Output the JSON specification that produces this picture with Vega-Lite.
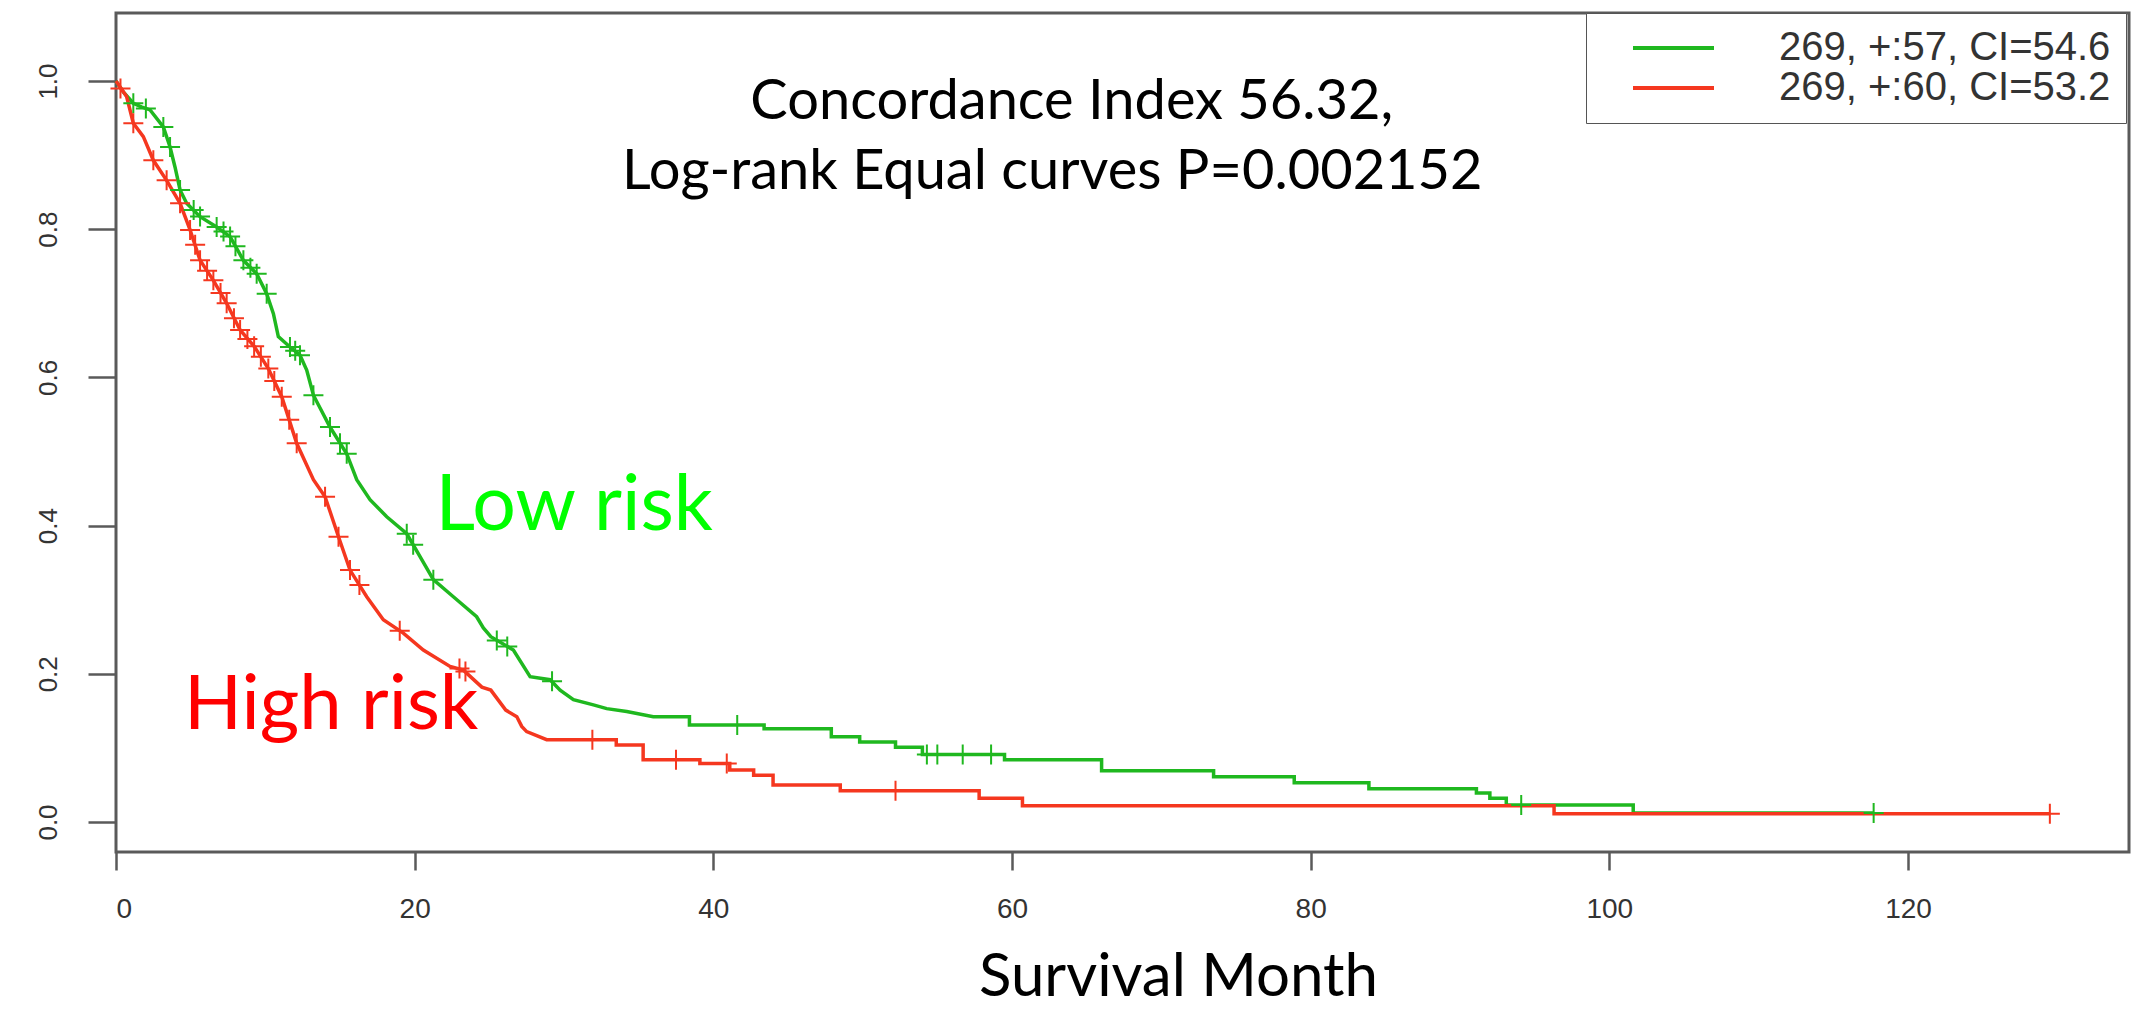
{
  "$schema": "https://vega.github.io/schema/vega-lite/v6.json",
  "width": 2013,
  "height": 839,
  "autosize": {"type": "none"},
  "padding": {"left": 116, "top": 13, "right": 7, "bottom": 158},
  "background": "white",
  "config": {
    "view": {"stroke": "#5a5a5a", "strokeWidth": 3},
    "axis": {"grid": false, "domain": false, "tickColor": "#5a5a5a", "tickWidth": 2.5, "labelFont": "Liberation Sans", "labelColor": "#333333", "labelFontWeight": "normal"},
    "legend": {"strokeColor": "#555555", "fillColor": "white"}
  },
  "datasets": {
    "curve": [
      {"g": "269, +:57, CI=54.6", "t": 0, "s": 1.0, "i": 0},
      {"g": "269, +:57, CI=54.6", "t": 0.5, "s": 0.985, "i": 1},
      {"g": "269, +:57, CI=54.6", "t": 1.16, "s": 0.970, "i": 2},
      {"g": "269, +:57, CI=54.6", "t": 1.7, "s": 0.965, "i": 3},
      {"g": "269, +:57, CI=54.6", "t": 2.28, "s": 0.961, "i": 4},
      {"g": "269, +:57, CI=54.6", "t": 3.17, "s": 0.938, "i": 5},
      {"g": "269, +:57, CI=54.6", "t": 3.62, "s": 0.911, "i": 6},
      {"g": "269, +:57, CI=54.6", "t": 3.95, "s": 0.884, "i": 7},
      {"g": "269, +:57, CI=54.6", "t": 4.29, "s": 0.853, "i": 8},
      {"g": "269, +:57, CI=54.6", "t": 4.73, "s": 0.835, "i": 9},
      {"g": "269, +:57, CI=54.6", "t": 5.63, "s": 0.817, "i": 10},
      {"g": "269, +:57, CI=54.6", "t": 6.74, "s": 0.803, "i": 11},
      {"g": "269, +:57, CI=54.6", "t": 7.64, "s": 0.790, "i": 12},
      {"g": "269, +:57, CI=54.6", "t": 8.53, "s": 0.758, "i": 13},
      {"g": "269, +:57, CI=54.6", "t": 9.42, "s": 0.740, "i": 14},
      {"g": "269, +:57, CI=54.6", "t": 10.09, "s": 0.713, "i": 15},
      {"g": "269, +:57, CI=54.6", "t": 10.54, "s": 0.686, "i": 16},
      {"g": "269, +:57, CI=54.6", "t": 10.87, "s": 0.655, "i": 17},
      {"g": "269, +:57, CI=54.6", "t": 11.65, "s": 0.641, "i": 18},
      {"g": "269, +:57, CI=54.6", "t": 12.32, "s": 0.630, "i": 19},
      {"g": "269, +:57, CI=54.6", "t": 12.77, "s": 0.610, "i": 20},
      {"g": "269, +:57, CI=54.6", "t": 13.22, "s": 0.576, "i": 21},
      {"g": "269, +:57, CI=54.6", "t": 14.33, "s": 0.533, "i": 22},
      {"g": "269, +:57, CI=54.6", "t": 15.45, "s": 0.497, "i": 23},
      {"g": "269, +:57, CI=54.6", "t": 16.12, "s": 0.462, "i": 24},
      {"g": "269, +:57, CI=54.6", "t": 17.01, "s": 0.435, "i": 25},
      {"g": "269, +:57, CI=54.6", "t": 18.13, "s": 0.412, "i": 26},
      {"g": "269, +:57, CI=54.6", "t": 19.47, "s": 0.389, "i": 27},
      {"g": "269, +:57, CI=54.6", "t": 20.36, "s": 0.358, "i": 28},
      {"g": "269, +:57, CI=54.6", "t": 21.25, "s": 0.327, "i": 29},
      {"g": "269, +:57, CI=54.6", "t": 22.59, "s": 0.304, "i": 30},
      {"g": "269, +:57, CI=54.6", "t": 24.15, "s": 0.277, "i": 31},
      {"g": "269, +:57, CI=54.6", "t": 24.6, "s": 0.262, "i": 32},
      {"g": "269, +:57, CI=54.6", "t": 25.1, "s": 0.250, "i": 33},
      {"g": "269, +:57, CI=54.6", "t": 26.61, "s": 0.232, "i": 34},
      {"g": "269, +:57, CI=54.6", "t": 27.73, "s": 0.196, "i": 35},
      {"g": "269, +:57, CI=54.6", "t": 29.07, "s": 0.192, "i": 36},
      {"g": "269, +:57, CI=54.6", "t": 29.74, "s": 0.178, "i": 37},
      {"g": "269, +:57, CI=54.6", "t": 30.63, "s": 0.165, "i": 38},
      {"g": "269, +:57, CI=54.6", "t": 31.97, "s": 0.158, "i": 39},
      {"g": "269, +:57, CI=54.6", "t": 32.86, "s": 0.153, "i": 40},
      {"g": "269, +:57, CI=54.6", "t": 34.2, "s": 0.149, "i": 41},
      {"g": "269, +:57, CI=54.6", "t": 35.98, "s": 0.142, "i": 42},
      {"g": "269, +:57, CI=54.6", "t": 38.4, "s": 0.142, "i": 43},
      {"g": "269, +:57, CI=54.6", "t": 38.4, "s": 0.131, "i": 44},
      {"g": "269, +:57, CI=54.6", "t": 43.4, "s": 0.131, "i": 45},
      {"g": "269, +:57, CI=54.6", "t": 43.4, "s": 0.126, "i": 46},
      {"g": "269, +:57, CI=54.6", "t": 47.9, "s": 0.126, "i": 47},
      {"g": "269, +:57, CI=54.6", "t": 47.9, "s": 0.115, "i": 48},
      {"g": "269, +:57, CI=54.6", "t": 49.8, "s": 0.115, "i": 49},
      {"g": "269, +:57, CI=54.6", "t": 49.8, "s": 0.108, "i": 50},
      {"g": "269, +:57, CI=54.6", "t": 52.2, "s": 0.108, "i": 51},
      {"g": "269, +:57, CI=54.6", "t": 52.2, "s": 0.101, "i": 52},
      {"g": "269, +:57, CI=54.6", "t": 54.0, "s": 0.101, "i": 53},
      {"g": "269, +:57, CI=54.6", "t": 54.0, "s": 0.091, "i": 54},
      {"g": "269, +:57, CI=54.6", "t": 59.5, "s": 0.091, "i": 55},
      {"g": "269, +:57, CI=54.6", "t": 59.5, "s": 0.084, "i": 56},
      {"g": "269, +:57, CI=54.6", "t": 66.0, "s": 0.084, "i": 57},
      {"g": "269, +:57, CI=54.6", "t": 66.0, "s": 0.069, "i": 58},
      {"g": "269, +:57, CI=54.6", "t": 73.5, "s": 0.069, "i": 59},
      {"g": "269, +:57, CI=54.6", "t": 73.5, "s": 0.061, "i": 60},
      {"g": "269, +:57, CI=54.6", "t": 78.9, "s": 0.061, "i": 61},
      {"g": "269, +:57, CI=54.6", "t": 78.9, "s": 0.053, "i": 62},
      {"g": "269, +:57, CI=54.6", "t": 83.9, "s": 0.053, "i": 63},
      {"g": "269, +:57, CI=54.6", "t": 83.9, "s": 0.045, "i": 64},
      {"g": "269, +:57, CI=54.6", "t": 91.1, "s": 0.045, "i": 65},
      {"g": "269, +:57, CI=54.6", "t": 91.1, "s": 0.039, "i": 66},
      {"g": "269, +:57, CI=54.6", "t": 92.0, "s": 0.039, "i": 67},
      {"g": "269, +:57, CI=54.6", "t": 92.0, "s": 0.032, "i": 68},
      {"g": "269, +:57, CI=54.6", "t": 93.1, "s": 0.032, "i": 69},
      {"g": "269, +:57, CI=54.6", "t": 93.1, "s": 0.023, "i": 70},
      {"g": "269, +:57, CI=54.6", "t": 101.6, "s": 0.023, "i": 71},
      {"g": "269, +:57, CI=54.6", "t": 101.6, "s": 0.012, "i": 72},
      {"g": "269, +:57, CI=54.6", "t": 117.7, "s": 0.012, "i": 73},
      {"g": "269, +:60, CI=53.2", "t": 0, "s": 1.0, "i": 0},
      {"g": "269, +:60, CI=53.2", "t": 0.71, "s": 0.979, "i": 1},
      {"g": "269, +:60, CI=53.2", "t": 1.16, "s": 0.943, "i": 2},
      {"g": "269, +:60, CI=53.2", "t": 1.83, "s": 0.925, "i": 3},
      {"g": "269, +:60, CI=53.2", "t": 2.5, "s": 0.893, "i": 4},
      {"g": "269, +:60, CI=53.2", "t": 3.39, "s": 0.866, "i": 5},
      {"g": "269, +:60, CI=53.2", "t": 4.29, "s": 0.835, "i": 6},
      {"g": "269, +:60, CI=53.2", "t": 4.96, "s": 0.799, "i": 7},
      {"g": "269, +:60, CI=53.2", "t": 5.63, "s": 0.758, "i": 8},
      {"g": "269, +:60, CI=53.2", "t": 6.52, "s": 0.731, "i": 9},
      {"g": "269, +:60, CI=53.2", "t": 7.41, "s": 0.700, "i": 10},
      {"g": "269, +:60, CI=53.2", "t": 8.31, "s": 0.664, "i": 11},
      {"g": "269, +:60, CI=53.2", "t": 9.25, "s": 0.642, "i": 12},
      {"g": "269, +:60, CI=53.2", "t": 10.2, "s": 0.612, "i": 13},
      {"g": "269, +:60, CI=53.2", "t": 11.1, "s": 0.574, "i": 14},
      {"g": "269, +:60, CI=53.2", "t": 12.1, "s": 0.511, "i": 15},
      {"g": "269, +:60, CI=53.2", "t": 13.22, "s": 0.462, "i": 16},
      {"g": "269, +:60, CI=53.2", "t": 14.0, "s": 0.439, "i": 17},
      {"g": "269, +:60, CI=53.2", "t": 14.9, "s": 0.385, "i": 18},
      {"g": "269, +:60, CI=53.2", "t": 15.67, "s": 0.340, "i": 19},
      {"g": "269, +:60, CI=53.2", "t": 16.79, "s": 0.304, "i": 20},
      {"g": "269, +:60, CI=53.2", "t": 17.9, "s": 0.273, "i": 21},
      {"g": "269, +:60, CI=53.2", "t": 19.24, "s": 0.255, "i": 22},
      {"g": "269, +:60, CI=53.2", "t": 20.58, "s": 0.232, "i": 23},
      {"g": "269, +:60, CI=53.2", "t": 22.37, "s": 0.210, "i": 24},
      {"g": "269, +:60, CI=53.2", "t": 23.26, "s": 0.205, "i": 25},
      {"g": "269, +:60, CI=53.2", "t": 24.5, "s": 0.182, "i": 26},
      {"g": "269, +:60, CI=53.2", "t": 25.1, "s": 0.178, "i": 27},
      {"g": "269, +:60, CI=53.2", "t": 26.1, "s": 0.151, "i": 28},
      {"g": "269, +:60, CI=53.2", "t": 26.84, "s": 0.142, "i": 29},
      {"g": "269, +:60, CI=53.2", "t": 27.17, "s": 0.129, "i": 30},
      {"g": "269, +:60, CI=53.2", "t": 27.5, "s": 0.122, "i": 31},
      {"g": "269, +:60, CI=53.2", "t": 28.84, "s": 0.111, "i": 32},
      {"g": "269, +:60, CI=53.2", "t": 33.5, "s": 0.111, "i": 33},
      {"g": "269, +:60, CI=53.2", "t": 33.5, "s": 0.104, "i": 34},
      {"g": "269, +:60, CI=53.2", "t": 35.3, "s": 0.104, "i": 35},
      {"g": "269, +:60, CI=53.2", "t": 35.3, "s": 0.084, "i": 36},
      {"g": "269, +:60, CI=53.2", "t": 39.1, "s": 0.084, "i": 37},
      {"g": "269, +:60, CI=53.2", "t": 39.1, "s": 0.079, "i": 38},
      {"g": "269, +:60, CI=53.2", "t": 41.1, "s": 0.079, "i": 39},
      {"g": "269, +:60, CI=53.2", "t": 41.1, "s": 0.070, "i": 40},
      {"g": "269, +:60, CI=53.2", "t": 42.7, "s": 0.070, "i": 41},
      {"g": "269, +:60, CI=53.2", "t": 42.7, "s": 0.063, "i": 42},
      {"g": "269, +:60, CI=53.2", "t": 44.0, "s": 0.063, "i": 43},
      {"g": "269, +:60, CI=53.2", "t": 44.0, "s": 0.050, "i": 44},
      {"g": "269, +:60, CI=53.2", "t": 48.5, "s": 0.050, "i": 45},
      {"g": "269, +:60, CI=53.2", "t": 48.5, "s": 0.042, "i": 46},
      {"g": "269, +:60, CI=53.2", "t": 57.8, "s": 0.042, "i": 47},
      {"g": "269, +:60, CI=53.2", "t": 57.8, "s": 0.032, "i": 48},
      {"g": "269, +:60, CI=53.2", "t": 60.7, "s": 0.032, "i": 49},
      {"g": "269, +:60, CI=53.2", "t": 60.7, "s": 0.022, "i": 50},
      {"g": "269, +:60, CI=53.2", "t": 96.3, "s": 0.022, "i": 51},
      {"g": "269, +:60, CI=53.2", "t": 96.3, "s": 0.011, "i": 52},
      {"g": "269, +:60, CI=53.2", "t": 129.5, "s": 0.011, "i": 53}
    ],
    "censor": [
      {"g": "269, +:57, CI=54.6", "t": 1.16, "s": 0.970},
      {"g": "269, +:57, CI=54.6", "t": 2.0, "s": 0.963},
      {"g": "269, +:57, CI=54.6", "t": 3.17, "s": 0.938},
      {"g": "269, +:57, CI=54.6", "t": 3.62, "s": 0.911},
      {"g": "269, +:57, CI=54.6", "t": 4.29, "s": 0.853},
      {"g": "269, +:57, CI=54.6", "t": 5.2, "s": 0.826},
      {"g": "269, +:57, CI=54.6", "t": 5.63, "s": 0.817},
      {"g": "269, +:57, CI=54.6", "t": 6.74, "s": 0.803},
      {"g": "269, +:57, CI=54.6", "t": 7.2, "s": 0.797},
      {"g": "269, +:57, CI=54.6", "t": 7.64, "s": 0.790},
      {"g": "269, +:57, CI=54.6", "t": 8.0, "s": 0.777},
      {"g": "269, +:57, CI=54.6", "t": 8.53, "s": 0.758},
      {"g": "269, +:57, CI=54.6", "t": 9.0, "s": 0.748},
      {"g": "269, +:57, CI=54.6", "t": 9.42, "s": 0.740},
      {"g": "269, +:57, CI=54.6", "t": 10.09, "s": 0.713},
      {"g": "269, +:57, CI=54.6", "t": 11.65, "s": 0.641},
      {"g": "269, +:57, CI=54.6", "t": 12.0, "s": 0.636},
      {"g": "269, +:57, CI=54.6", "t": 12.32, "s": 0.630},
      {"g": "269, +:57, CI=54.6", "t": 13.22, "s": 0.576},
      {"g": "269, +:57, CI=54.6", "t": 14.33, "s": 0.533},
      {"g": "269, +:57, CI=54.6", "t": 15.0, "s": 0.511},
      {"g": "269, +:57, CI=54.6", "t": 15.45, "s": 0.497},
      {"g": "269, +:57, CI=54.6", "t": 19.47, "s": 0.389},
      {"g": "269, +:57, CI=54.6", "t": 19.9, "s": 0.374},
      {"g": "269, +:57, CI=54.6", "t": 21.25, "s": 0.327},
      {"g": "269, +:57, CI=54.6", "t": 25.5, "s": 0.245},
      {"g": "269, +:57, CI=54.6", "t": 26.2, "s": 0.237},
      {"g": "269, +:57, CI=54.6", "t": 29.2, "s": 0.190},
      {"g": "269, +:57, CI=54.6", "t": 41.6, "s": 0.131},
      {"g": "269, +:57, CI=54.6", "t": 54.3, "s": 0.091},
      {"g": "269, +:57, CI=54.6", "t": 55.0, "s": 0.091},
      {"g": "269, +:57, CI=54.6", "t": 56.7, "s": 0.091},
      {"g": "269, +:57, CI=54.6", "t": 58.6, "s": 0.091},
      {"g": "269, +:57, CI=54.6", "t": 94.1, "s": 0.023},
      {"g": "269, +:57, CI=54.6", "t": 117.7, "s": 0.012},
      {"g": "269, +:60, CI=53.2", "t": 0.3, "s": 0.99},
      {"g": "269, +:60, CI=53.2", "t": 1.16, "s": 0.943},
      {"g": "269, +:60, CI=53.2", "t": 2.5, "s": 0.893},
      {"g": "269, +:60, CI=53.2", "t": 3.39, "s": 0.866},
      {"g": "269, +:60, CI=53.2", "t": 4.29, "s": 0.835},
      {"g": "269, +:60, CI=53.2", "t": 4.96, "s": 0.799},
      {"g": "269, +:60, CI=53.2", "t": 5.3, "s": 0.779},
      {"g": "269, +:60, CI=53.2", "t": 5.63, "s": 0.758},
      {"g": "269, +:60, CI=53.2", "t": 6.1, "s": 0.744},
      {"g": "269, +:60, CI=53.2", "t": 6.52, "s": 0.731},
      {"g": "269, +:60, CI=53.2", "t": 7.0, "s": 0.714},
      {"g": "269, +:60, CI=53.2", "t": 7.41, "s": 0.700},
      {"g": "269, +:60, CI=53.2", "t": 7.9, "s": 0.680},
      {"g": "269, +:60, CI=53.2", "t": 8.31, "s": 0.664},
      {"g": "269, +:60, CI=53.2", "t": 8.8, "s": 0.652},
      {"g": "269, +:60, CI=53.2", "t": 9.25, "s": 0.642},
      {"g": "269, +:60, CI=53.2", "t": 9.7, "s": 0.628},
      {"g": "269, +:60, CI=53.2", "t": 10.2, "s": 0.612},
      {"g": "269, +:60, CI=53.2", "t": 10.6, "s": 0.595},
      {"g": "269, +:60, CI=53.2", "t": 11.1, "s": 0.574},
      {"g": "269, +:60, CI=53.2", "t": 11.6, "s": 0.543},
      {"g": "269, +:60, CI=53.2", "t": 12.1, "s": 0.511},
      {"g": "269, +:60, CI=53.2", "t": 14.0, "s": 0.439},
      {"g": "269, +:60, CI=53.2", "t": 14.9, "s": 0.385},
      {"g": "269, +:60, CI=53.2", "t": 15.67, "s": 0.340},
      {"g": "269, +:60, CI=53.2", "t": 16.3, "s": 0.320},
      {"g": "269, +:60, CI=53.2", "t": 19.0, "s": 0.258},
      {"g": "269, +:60, CI=53.2", "t": 23.0, "s": 0.207},
      {"g": "269, +:60, CI=53.2", "t": 23.4, "s": 0.203},
      {"g": "269, +:60, CI=53.2", "t": 31.9, "s": 0.111},
      {"g": "269, +:60, CI=53.2", "t": 37.5, "s": 0.084},
      {"g": "269, +:60, CI=53.2", "t": 40.9, "s": 0.079},
      {"g": "269, +:60, CI=53.2", "t": 52.2, "s": 0.042},
      {"g": "269, +:60, CI=53.2", "t": 129.5, "s": 0.011}
    ],
    "notesBlack": [
      {"t": 64.0, "s": 0.949, "label": "Concordance Index 56.32,"},
      {"t": 62.7, "s": 0.854, "label": "Log-rank Equal curves P=0.002152"}
    ],
    "notesLow": [{"t": 21.4, "s": 0.394, "label": "Low risk"}],
    "notesHigh": [{"t": 4.55, "s": 0.126, "label": "High risk"}]
  },
  "encoding": {
    "x": {
      "field": "t", "type": "quantitative",
      "scale": {"domain": [0, 134.8], "nice": false, "zero": false},
      "axis": {"values": [0, 20, 40, 60, 80, 100, 120], "tickSize": 18, "labelPadding": 25, "labelFontSize": 28, "title": "Survival Month", "titleFont": "Lato", "titleFontSize": 60, "titleFontWeight": "normal", "titleColor": "black", "titleX": 1062, "titleY": 143, "titleAlign": "center", "titleBaseline": "alphabetic"}
    },
    "y": {
      "field": "s", "type": "quantitative",
      "scale": {"domain": [-0.0405, 1.0918], "nice": false, "zero": false},
      "axis": {"values": [0, 0.2, 0.4, 0.6, 0.8, 1.0], "format": ".1f", "tickSize": 28, "labelAngle": -90, "labelPadding": 27, "labelFontSize": 26, "title": null}
    }
  },
  "layer": [
    {
      "data": {"name": "curve"},
      "mark": {"type": "line", "strokeWidth": 3.5, "interpolate": "linear"},
      "encoding": {
        "order": {"field": "i", "type": "quantitative"},
        "color": {
          "field": "g", "type": "nominal",
          "scale": {"domain": ["269, +:57, CI=54.6", "269, +:60, CI=53.2"], "range": ["#1fb81f", "#f5371f"]},
          "legend": {"orient": "none", "legendX": 1470, "legendY": 0, "title": null, "symbolType": "M-3,0H3", "symbolSize": 729, "symbolStrokeWidth": 4, "symbolOffset": 52.5, "labelFont": "Liberation Sans", "labelFontSize": 40, "labelColor": "#333333", "labelOffset": 85.5, "labelLimit": 0, "padding": 15, "rowPadding": -11}
        }
      }
    },
    {
      "data": {"name": "censor"},
      "mark": {"type": "point", "shape": "M-1,0H1M0,-1V1", "filled": false, "strokeWidth": 2, "size": 400, "opacity": 1},
      "encoding": {
        "color": {"field": "g", "type": "nominal", "legend": null}
      }
    },
    {
      "data": {"name": "notesBlack"},
      "mark": {"type": "text", "align": "center", "baseline": "alphabetic", "font": "Lato", "fontSize": 56, "color": "black"},
      "encoding": {"text": {"field": "label"}}
    },
    {
      "data": {"name": "notesLow"},
      "mark": {"type": "text", "align": "left", "baseline": "alphabetic", "font": "Lato", "fontSize": 77, "color": "#00ff00"},
      "encoding": {"text": {"field": "label"}}
    },
    {
      "data": {"name": "notesHigh"},
      "mark": {"type": "text", "align": "left", "baseline": "alphabetic", "font": "Lato", "fontSize": 76, "color": "#ff0000"},
      "encoding": {"text": {"field": "label"}}
    }
  ]
}
